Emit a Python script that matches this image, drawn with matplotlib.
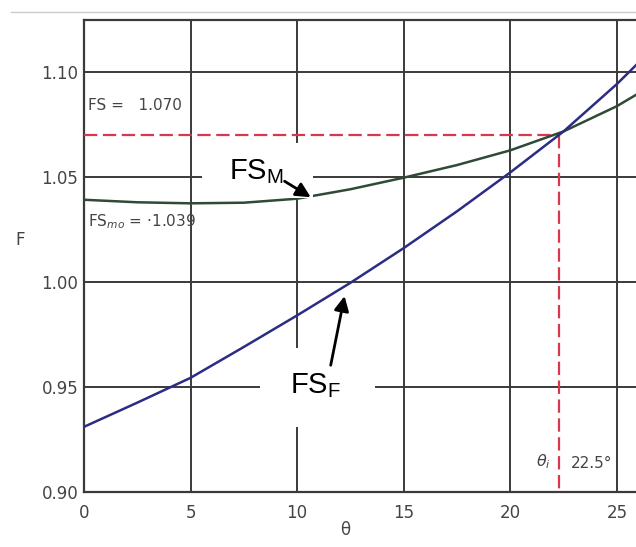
import matplotlib
matplotlib.use("Agg")
import matplotlib.pyplot as plt
from matplotlib.patches import Rectangle
from matplotlib.lines import Line2D

# ---- data ----
theta_m = [0, 2.5, 5, 7.5, 10, 12.5, 15, 17.5, 20, 22.5, 25, 26]
fs_m = [1.039, 1.0378, 1.0373, 1.0376, 1.0395, 1.0440, 1.0495, 1.0555, 1.0625, 1.0715, 1.0835, 1.0895]

theta_f = [0, 2.5, 5, 7.5, 10, 12.5, 15, 17.5, 20, 22.5, 25, 26]
fs_f = [0.931, 0.9425, 0.9543, 0.9690, 0.9840, 0.9995, 1.0160, 1.0335, 1.0520, 1.0715, 1.0940, 1.1040]

fs_eq = 1.070
theta_i = 22.3
x_ticks = [0, 5, 10, 15, 20, 25]
y_ticks = [0.90, 0.95, 1.00, 1.05, 1.10]
y_tick_labels = ["0.90", "0.95", "1.00", "1.05", "1.10"]

W, H = 636, 547
fig = plt.figure(figsize=(W / 100, H / 100), dpi=100)
ax = fig.add_axes([84 / W, 1 - 492 / H, (W - 84) / W, (492 - 20) / H])
ax.set_xlim(0, 25.9)
ax.set_ylim(0.90, 1.1245)

grid_c = "#3a3a3a"
ax.set_xticks(x_ticks)
ax.set_yticks(y_ticks)
ax.set_yticklabels(y_tick_labels)
ax.grid(True, color=grid_c, linewidth=1.4)
ax.tick_params(length=0, labelsize=12, colors="#444444")
ax.tick_params(axis="x", pad=9)
ax.tick_params(axis="y", pad=4)
for s in ["left", "top", "bottom"]:
    ax.spines[s].set_color(grid_c)
    ax.spines[s].set_linewidth(1.6)
ax.spines["right"].set_visible(False)

# red dashed construction lines
red = "#d8384e"
ax.plot([0, theta_i], [fs_eq, fs_eq], color=red, lw=1.6, dashes=(6, 2.5), zorder=3)
ax.plot([theta_i, theta_i], [fs_eq, 0.90], color=red, lw=1.6, dashes=(6, 2.5), zorder=3)

# curves
ax.plot(theta_m, fs_m, color="#2f4a36", lw=1.8, zorder=4)
ax.plot(theta_f, fs_f, color="#2c2c85", lw=1.8, zorder=4)

# text labels from the original figure
txt_c = "#444444"
ax.text(0.2, 1.0837, "FS =   1.070", fontsize=11, color=txt_c, va="center")
ax.text(0.2, 1.0284, "FS$_{mo}$ = ·1.039", fontsize=11, color=txt_c, va="center")
ax.text(21.2, 0.9145, r"$\theta_{i}$", fontsize=11.5, color=txt_c, va="center")
ax.text(22.85, 0.9135, "22.5°", fontsize=11, color=txt_c, va="center")
fig.text(20 / W, 1 - 240 / H, "F", fontsize=12, color=txt_c, ha="center", va="center")
fig.text(345 / W, 1 - 530 / H, "θ", fontsize=12, color=txt_c, ha="center", va="center")

# white label boxes with arrows
ax.add_patch(Rectangle((5.53, 1.0397), 10.74 - 5.53, 1.0659 - 1.0397,
                       facecolor="white", edgecolor="none", zorder=6))
ax.add_patch(Rectangle((8.26, 0.9308), 13.65 - 8.26, 0.9683 - 0.9308,
                       facecolor="white", edgecolor="none", zorder=6))
ax.text(8.1, 1.0525, "FS$_\\mathregular{M}$", fontsize=21, family="Liberation Sans",
        ha="center", va="center", zorder=7)
ax.text(10.85, 0.9505, "FS$_\\mathregular{F}$", fontsize=21, family="Liberation Sans",
        ha="center", va="center", zorder=7)
ax.annotate("", xy=(10.75, 1.0395), xytext=(9.3, 1.0485),
            arrowprops=dict(arrowstyle="-|>", color="black", lw=2, mutation_scale=22),
            zorder=8)
ax.annotate("", xy=(12.25, 0.9945), xytext=(11.55, 0.9590),
            arrowprops=dict(arrowstyle="-|>", color="black", lw=2, mutation_scale=22),
            zorder=8)

# thin grey rule at the top of the scan
fig.add_artist(Line2D([11 / W, 1], [1 - 12 / H, 1 - 12 / H], color="#cccccc", lw=1,
                      transform=fig.transFigure))

fig.savefig("out.png", dpi=100)
